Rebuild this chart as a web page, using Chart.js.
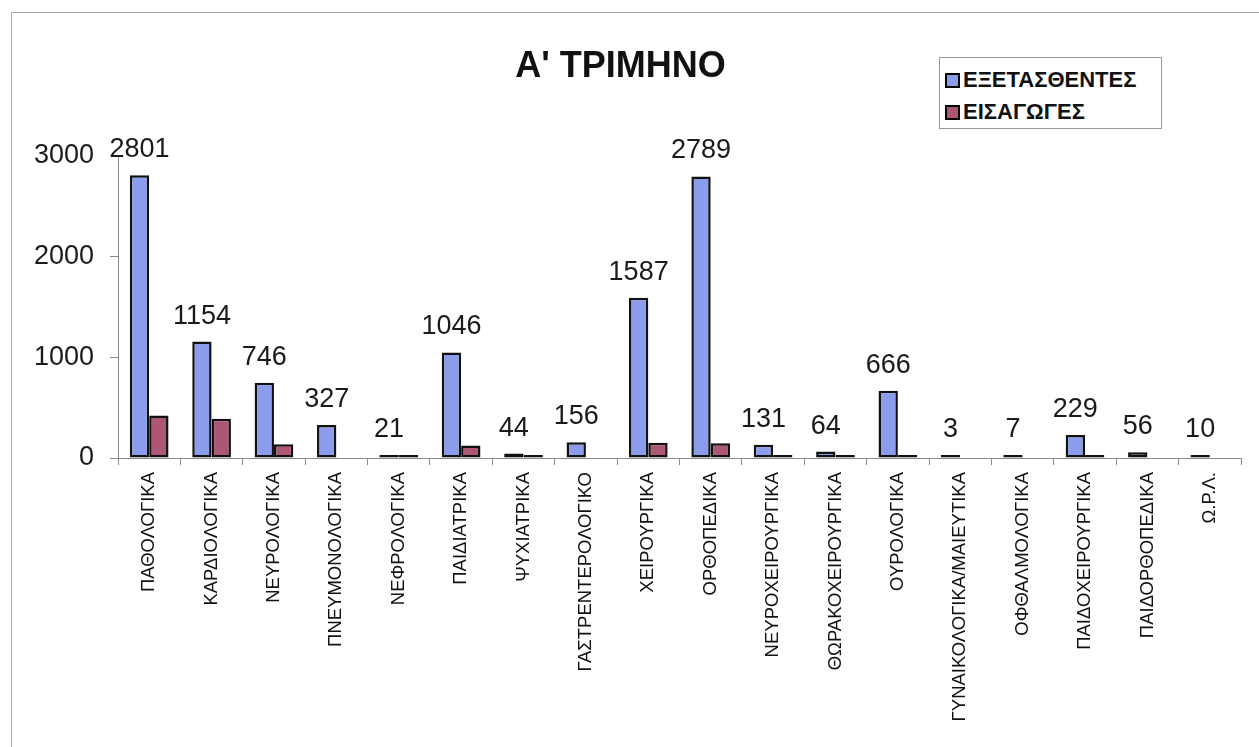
<!DOCTYPE html>
<html>
<head>
<meta charset="utf-8">
<script src="https://cdn.jsdelivr.net/npm/chart.js@4/dist/chart.umd.min.js"></script>
<style>
    html, body { margin: 0; padding: 0; background: #fff; overflow: hidden; }
    #wrap { position: relative; width: 1259px; height: 747px; }
    #frame {
        position: absolute; left: 11px; top: 12px; width: 1300px; height: 800px;
        border: 1px solid #a8a8a8; box-sizing: border-box;
    }
    #legend {
        position: absolute; left: 939px; top: 57px; width: 223px; height: 72px;
        border: 1px solid #9a9a9a; box-sizing: border-box; background: #fff;
        font-family: "Liberation Sans", Arial, sans-serif; font-weight: bold; font-size: 22px; color: #111;
    }
    #legend .item { position: absolute; left: 5px; display: flex; align-items: center; white-space: nowrap; }
    #legend .box { width: 11px; height: 11px; border: 2px solid #000; margin-right: 3px; }
</style>
</head>
<body>
<div id="wrap">
    <div id="frame"></div>
    <canvas id="chart" width="1259" height="747"></canvas>
    <div id="legend"></div>
</div>
<script>
const categories = [
    'ΠΑΘΟΛΟΓΙΚΑ', 'ΚΑΡΔΙΟΛΟΓΙΚΑ', 'ΝΕΥΡΟΛΟΓΙΚΑ', 'ΠΝΕΥΜΟΝΟΛΟΓΙΚΑ', 'ΝΕΦΡΟΛΟΓΙΚΑ',
    'ΠΑΙΔΙΑΤΡΙΚΑ', 'ΨΥΧΙΑΤΡΙΚΑ', 'ΓΑΣΤΡΕΝΤΕΡΟΛΟΓΙΚΟ', 'ΧΕΙΡΟΥΡΓΙΚΑ', 'ΟΡΘΟΠΕΔΙΚΑ',
    'ΝΕΥΡΟΧΕΙΡΟΥΡΓΙΚΑ', 'ΘΩΡΑΚΟΧΕΙΡΟΥΡΓΙΚΑ', 'ΟΥΡΟΛΟΓΙΚΑ', 'ΓΥΝΑΙΚΟΛΟΓΙΚΑ/ΜΑΙΕΥΤΙΚΑ',
    'ΟΦΘΑΛΜΟΛΟΓΙΚΑ', 'ΠΑΙΔΟΧΕΙΡΟΥΡΓΙΚΑ', 'ΠΑΙΔΟΡΘΟΠΕΔΙΚΑ', 'Ω.Ρ.Λ.'
];
const examined = [2801, 1154, 746, 327, 21, 1046, 44, 156, 1587, 2789, 131, 64, 666, 3, 7, 229, 56, 10];
// null = no bar visible in the picture
const admissions = [420, 390, 135, null, 15, 125, 22, null, 150, 145, 28, 12, 12, null, null, 28, null, null];
const yTicks = [0, 1000, 2000, 3000];

const seriesNames = ['ΕΞΕΤΑΣΘΕΝΤΕΣ', 'ΕΙΣΑΓΩΓΕΣ'];
const seriesColors = ['#8c9cec', '#ad5676'];
const FONT = '"Liberation Sans", Arial, sans-serif';

// legend box (top right)
const legend = document.getElementById('legend');
seriesNames.forEach((name, i) => {
    const item = document.createElement('div');
    item.className = 'item';
    item.style.top = (i === 0 ? 9 : 41) + 'px';
    item.innerHTML = `<span class="box" style="background:${seriesColors[i]}"></span>${name}`;
    legend.appendChild(item);
});

// value labels above the first series
const valueLabels = {
    id: 'valueLabels',
    afterDatasetsDraw(chart) {
        const ctx = chart.ctx;
        const meta = chart.getDatasetMeta(0);
        ctx.save();
        ctx.font = '27px ' + FONT;
        ctx.fillStyle = '#1a1a1a';
        ctx.textAlign = 'center';
        ctx.textBaseline = 'alphabetic';
        meta.data.forEach((bar, i) => {
            ctx.fillText(String(examined[i]), bar.x, bar.y - 18);
        });
        ctx.restore();
    }
};

new Chart(document.getElementById('chart'), {
    type: 'bar',
    data: {
        labels: categories,
        datasets: [
            {
                label: seriesNames[0],
                data: examined,
                backgroundColor: seriesColors[0],
                borderColor: '#111',
                borderWidth: 2.5,
                borderSkipped: false,
                minBarLength: 3,
            },
            {
                label: seriesNames[1],
                data: admissions,
                backgroundColor: seriesColors[1],
                borderColor: '#111',
                borderWidth: 2.5,
                borderSkipped: false,
                minBarLength: 3,
            },
        ],
    },
    options: {
        responsive: false,
        animation: false,
        layout: { padding: { left: 0, right: 18, top: 0, bottom: 0 } },
        datasets: { bar: { categoryPercentage: 0.62, barPercentage: 1 } },
        plugins: {
            legend: { display: false },
            tooltip: { enabled: false },
            title: {
                display: true,
                text: "Α' ΤΡΙΜΗΝΟ",
                color: '#111',
                font: { family: FONT, size: 36, weight: 'bold', lineHeight: 1.2 },
                padding: { top: 45, bottom: 67 },
            },
        },
        scales: {
            x: {
                grid: { drawOnChartArea: false, drawTicks: true, tickLength: 7, color: '#8a8a8a', offset: true },
                border: { color: '#8a8a8a', width: 1 },
                ticks: {
                    autoSkip: false,
                    maxRotation: 90,
                    minRotation: 90,
                    padding: 7,
                    color: '#111',
                    font: { family: FONT, size: 18.5 },
                },
                afterFit(scale) { scale.height = 289; },
            },
            y: {
                min: 0,
                max: 3000,
                afterBuildTicks(scale) { scale.ticks = yTicks.map(v => ({ value: v })); },
                grid: { drawOnChartArea: false, drawTicks: true, tickLength: 8, color: '#8a8a8a' },
                border: { color: '#8a8a8a', width: 1 },
                ticks: {
                    padding: 16,
                    color: '#1a1a1a',
                    font: { family: FONT, size: 27 },
                    callback: v => String(v),
                },
                afterFit(scale) { scale.width = 118; },
            },
        },
    },
    plugins: [valueLabels],
});
</script>
</body>
</html>
